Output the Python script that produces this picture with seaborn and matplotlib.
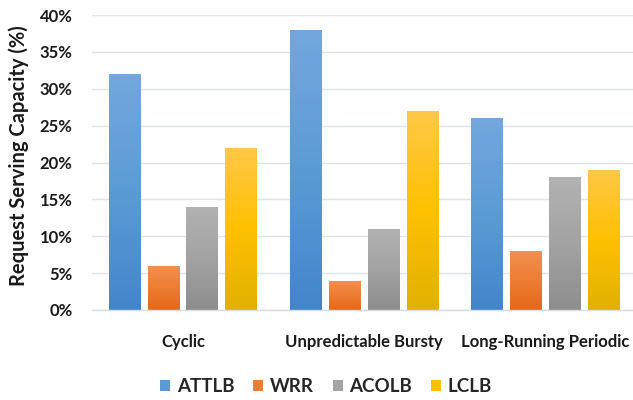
import numpy as np
import pandas as pd
import matplotlib
matplotlib.use("Agg")
import matplotlib.pyplot as plt
import seaborn as sns
from matplotlib.colors import to_rgb
from matplotlib.patches import Rectangle

categories = ["Cyclic", "Unpredictable Bursty", "Long-Running Periodic"]
series = ["ATTLB", "WRR", "ACOLB", "LCLB"]
attlb = [32, 38, 26]
wrr = [6, 4, 8]
acolb = [14, 11, 18]
lclb = [22, 27, 19]
yticks = [0, 5, 10, 15, 20, 25, 30, 35, 40]
ytick_labels = ["0%", "5%", "10%", "15%", "20%", "25%", "30%", "35%", "40%"]

base_colors = ["#5B9BD5", "#ED7D31", "#A5A5A5", "#FFC000"]
grad_colors = [
    ["#74a7dd", "#5b9bd5", "#4285cb"],
    ["#f38f52", "#ed7d31", "#e4681b"],
    ["#b2b2b2", "#a3a3a3", "#8d8d8d"],
    ["#ffc848", "#ffc000", "#e1b100"],
]

df = pd.DataFrame({
    "category": categories * 4,
    "series": sum([[s] * 3 for s in series], []),
    "value": attlb + wrr + acolb + lclb,
})

sns.set_theme(style="white")
plt.rcParams["font.family"] = ["Lato", "DejaVu Sans"]
plt.rcParams["font.weight"] = "bold"

fig = plt.figure(figsize=(6.33, 4.0), dpi=100)
ax = fig.add_axes([92 / 633, 90 / 400, 1 - 92 / 633, 295 / 400])

sns.barplot(data=df, x="category", y="value", hue="series", order=categories,
            hue_order=series, palette=base_colors, width=0.86, gap=0.18,
            ax=ax, legend=False, zorder=2)

def gradient(stops, n=200):
    cols = [np.array(to_rgb(c)) for c in stops]
    t = np.linspace(0, 1, n)
    out = np.zeros((n, 1, 3))
    for k, tv in enumerate(t):
        if tv <= 0.5:
            f = tv / 0.5
            out[k, 0] = cols[0] * (1 - f) + cols[1] * f
        else:
            f = (tv - 0.5) / 0.5
            out[k, 0] = cols[1] * (1 - f) + cols[2] * f
    return out

for i, cont in enumerate(ax.containers):
    g = gradient(grad_colors[i])
    for p in cont:
        x, w, h = p.get_x(), p.get_width(), p.get_height()
        p.set_facecolor("none")
        p.set_edgecolor("none")
        im = ax.imshow(g, extent=[x, x + w, 0, h], origin="upper", aspect="auto",
                       zorder=2.5, interpolation="nearest")
        im.set_clip_path(p)

ax.set_xlim(-0.502, 2.483)
ax.set_ylim(0, 40)

ax.set_yticks(yticks)
ax.set_yticklabels(ytick_labels, fontsize=12, fontweight="bold", color="#1a1a1a")
ax.grid(axis="y", color="#dfe3ea", linewidth=1.0, zorder=0)
ax.set_axisbelow(True)
for s in ["top", "right", "left"]:
    ax.spines[s].set_visible(False)
ax.spines["bottom"].set_color("#d9dde3")
ax.spines["bottom"].set_linewidth(1.0)
ax.tick_params(axis="y", length=0, pad=14)
ax.tick_params(axis="x", length=0, pad=17, labelsize=12)
for lab in ax.get_xticklabels():
    lab.set_fontweight("bold")
    lab.set_color("#1a1a1a")
ax.set_xlabel("")
ax.set_ylabel("Request Serving Capacity (%)", fontsize=14.5, fontweight="bold",
              color="#1a1a1a")
ax.yaxis.set_label_coords(-0.116, 0.524)

handles = [Rectangle((0, 0), 1, 1, facecolor=c, edgecolor="none") for c in base_colors]
fig.legend(handles, series, loc="center", bbox_to_anchor=(0.515, 0.033), ncol=4,
           frameon=False, handlelength=0.55, handleheight=0.55,
           handletextpad=0.35, columnspacing=1.0,
           prop={"weight": "bold", "size": 13.5})

fig.savefig("out.png", dpi=100)
